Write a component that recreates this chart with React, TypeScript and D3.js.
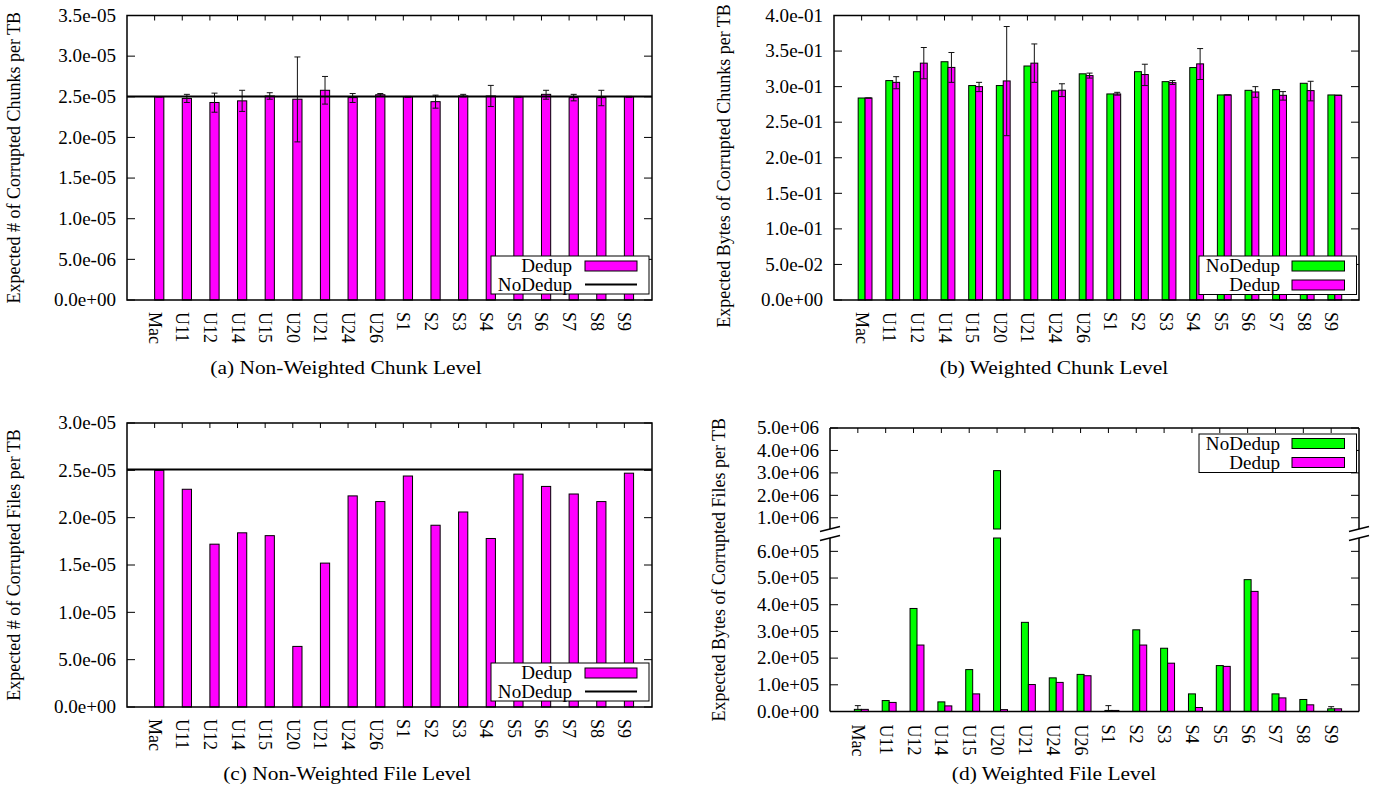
import React from 'react';
import * as d3 from 'd3';

const categories = ['Mac', 'U11', 'U12', 'U14', 'U15', 'U20', 'U21', 'U24', 'U26', 'S1', 'S2', 'S3', 'S4', 'S5', 'S6', 'S7', 'S8', 'S9'];

// (a) Non-Weighted Chunk Level
const chunkNWDedup = [2.50e-5, 2.48e-5, 2.43e-5, 2.45e-5, 2.51e-5, 2.47e-5, 2.58e-5, 2.49e-5, 2.525e-5, 2.50e-5, 2.44e-5, 2.51e-5, 2.51e-5, 2.50e-5, 2.53e-5, 2.49e-5, 2.49e-5, 2.50e-5];
const chunkNWDedupLo = [2.50e-5, 2.43e-5, 2.31e-5, 2.32e-5, 2.47e-5, 1.945e-5, 2.41e-5, 2.43e-5, 2.505e-5, 2.495e-5, 2.36e-5, 2.50e-5, 2.38e-5, 2.495e-5, 2.47e-5, 2.45e-5, 2.39e-5, 2.495e-5];
const chunkNWDedupHi = [2.50e-5, 2.53e-5, 2.545e-5, 2.58e-5, 2.55e-5, 2.99e-5, 2.75e-5, 2.54e-5, 2.54e-5, 2.505e-5, 2.52e-5, 2.53e-5, 2.64e-5, 2.505e-5, 2.58e-5, 2.53e-5, 2.58e-5, 2.505e-5];
const chunkNWNoDedup = 2.505e-5;
const ticksA = [0, 5e-6, 1e-5, 1.5e-5, 2e-5, 2.5e-5, 3e-5, 3.5e-5];

// (b) Weighted Chunk Level
const chunkWNoDedup = [0.284, 0.3085, 0.321, 0.335, 0.3015, 0.3015, 0.329, 0.294, 0.318, 0.2897, 0.321, 0.307, 0.3268, 0.2883, 0.2948, 0.2958, 0.3047, 0.2883];
const chunkWDedup = [0.284, 0.306, 0.333, 0.327, 0.300, 0.308, 0.333, 0.295, 0.3155, 0.2897, 0.317, 0.3056, 0.332, 0.2883, 0.2925, 0.2878, 0.2944, 0.2878];
const chunkWDedupLo = [0.284, 0.297, 0.311, 0.306, 0.293, 0.231, 0.306, 0.286, 0.312, 0.288, 0.3015, 0.303, 0.31, 0.2883, 0.285, 0.281, 0.280, 0.2878];
const chunkWDedupHi = [0.284, 0.314, 0.355, 0.348, 0.306, 0.3845, 0.360, 0.304, 0.319, 0.292, 0.3315, 0.3085, 0.3535, 0.2883, 0.300, 0.293, 0.3075, 0.2878];
const ticksB = [0, 0.05, 0.1, 0.15, 0.2, 0.25, 0.3, 0.35, 0.4];

// (c) Non-Weighted File Level
const fileNWDedup = [2.50e-5, 2.30e-5, 1.72e-5, 1.84e-5, 1.81e-5, 0.64e-5, 1.52e-5, 2.23e-5, 2.17e-5, 2.44e-5, 1.92e-5, 2.06e-5, 1.78e-5, 2.46e-5, 2.33e-5, 2.25e-5, 2.17e-5, 2.47e-5];
const fileNWNoDedup = 2.51e-5;
const ticksC = [0, 5e-6, 1e-5, 1.5e-5, 2e-5, 2.5e-5, 3e-5];

// (d) Weighted File Level
const fileWNoDedup = [8e3, 41e3, 386e3, 36e3, 157e3, 3.1e6, 334e3, 126e3, 139e3, 4e3, 306e3, 237e3, 66e3, 172e3, 494e3, 66e3, 45e3, 10e3];
const fileWDedup = [8e3, 34e3, 249e3, 21e3, 66e3, 7e3, 101e3, 109e3, 134e3, 4e3, 249e3, 181e3, 15e3, 169e3, 450e3, 51e3, 25e3, 10e3];
const fileWNoDedupHi = [22e3, 41e3, 386e3, 36e3, 157e3, 3.1e6, 334e3, 126e3, 139e3, 22e3, 306e3, 237e3, 66e3, 172e3, 494e3, 66e3, 45e3, 18e3];
const ticksDLow = [0, 1e5, 2e5, 3e5, 4e5, 5e5, 6e5];
const ticksDHigh = [1e6, 2e6, 3e6, 4e6, 5e6];
const domainDLow = [0, 6.5e5];
const domainDHigh = [5e5, 5e6];

const GREEN = '#00ff00';
const MAGENTA = '#ff00ff';
const FONT = '"Liberation Serif", "Times New Roman", Times, serif';
const FS = 18;
const SX = 1.06;

function fmtE(v: number) {
  const s = v.toExponential(1);
  const [m, e] = s.split('e');
  return m + 'e' + e[0] + e.slice(1).padStart(2, '0');
}

function T({ x, y, anchor = 'start', size = FS, sx = SX, rotate = 0, children }: any) {
  return (
    <text
      transform={`translate(${x},${y}) scale(${sx},1)${rotate ? ` rotate(${rotate})` : ''}`}
      textAnchor={anchor}
      dominantBaseline="central"
      fontFamily={FONT}
      fontSize={size}
      fill="#000"
    >
      {children}
    </text>
  );
}

function XLabels({ x, y }: any) {
  return (
    <g>
      {categories.map((c, i) => (
        <T key={c} x={x(i)} y={y} rotate={90} sx={1}>{c}</T>
      ))}
    </g>
  );
}

function TopTicks({ x, top }: any) {
  return (
    <g stroke="#000" strokeWidth={1}>
      {categories.map((c, i) => (
        <line key={c} x1={x(i)} x2={x(i)} y1={top} y2={top + 5} />
      ))}
    </g>
  );
}

function YTicks({ y, ticks, left, right, fmt }: any) {
  return (
    <g>
      {ticks.map((t: number) => (
        <g key={t}>
          <line x1={left} x2={left + 8} y1={y(t)} y2={y(t)} stroke="#000" strokeWidth={1} />
          <line x1={right - 8} x2={right} y1={y(t)} y2={y(t)} stroke="#000" strokeWidth={1} />
          <T x={left - 11} y={y(t)} anchor="end">{fmt(t)}</T>
        </g>
      ))}
    </g>
  );
}

function ErrBar({ x, y1, y2 }: any) {
  return (
    <g stroke="#111" strokeWidth={1}>
      <line x1={x} x2={x} y1={y1} y2={y2} />
      <line x1={x - 3} x2={x + 3} y1={y1} y2={y1} />
      <line x1={x - 3} x2={x + 3} y1={y2} y2={y2} />
    </g>
  );
}

function Legend({ x, y, w, h, rows, textRight, sampleX, sampleW }: any) {
  return (
    <g>
      <rect x={x} y={y} width={w} height={h} fill="#fff" stroke="#000" strokeWidth={1} />
      {rows.map((r: any) => (
        <g key={r.label}>
          <T x={textRight} y={r.cy} anchor="end">{r.label}</T>
          {r.type === 'bar' ? (
            <rect x={sampleX} y={r.cy - 5} width={sampleW} height={10} fill={r.color} stroke="#000" strokeWidth={1} />
          ) : (
            <line x1={sampleX} x2={sampleX + sampleW} y1={r.cy} y2={r.cy} stroke="#000" strokeWidth={2} />
          )}
        </g>
      ))}
    </g>
  );
}

function PanelSingle({ left, right, top, bottom, values, lo, hi, line, ticks, domainMax, ylabel, ylabelX, caption, captionX, captionY, legendY }: any) {
  const x = d3.scaleLinear().domain([-1, categories.length]).range([left, right]);
  const y = d3.scaleLinear().domain([0, domainMax]).range([bottom, top]);
  const w = (x(1) - x(0)) / 3;
  return (
    <g>
      {values.map((v: number, i: number) => (
        <rect key={i} x={x(i)} y={y(v)} width={w} height={y(0) - y(v)} fill={MAGENTA} stroke="#000" strokeWidth={1} />
      ))}
      {lo && values.map((v: number, i: number) => (
        <ErrBar key={i} x={x(i) + w / 2} y1={y(hi[i])} y2={y(lo[i])} />
      ))}
      <line x1={left} x2={right} y1={y(line)} y2={y(line)} stroke="#000" strokeWidth={2} />
      <rect x={left} y={top} width={right - left} height={bottom - top} fill="none" stroke="#000" strokeWidth={1.5} />
      <YTicks y={y} ticks={ticks} left={left} right={right} fmt={fmtE} />
      <TopTicks x={x} top={top} />
      <XLabels x={x} y={bottom + 12} />
      <Legend x={491} y={legendY} w={158} h={38} textRight={572} sampleX={585} sampleW={52}
        rows={[{ label: 'Dedup', type: 'bar', color: MAGENTA, cy: legendY + 10 }, { label: 'NoDedup', type: 'line', cy: legendY + 28.5 }]} />
      <T x={ylabelX} y={(top + bottom) / 2} anchor="middle" rotate={-90} sx={1}>{ylabel}</T>
      <T x={captionX} y={captionY} anchor="middle" size={19.5} sx={1.1}>{caption}</T>
    </g>
  );
}

function PanelB() {
  const left = 834, right = 1359, top = 15.5, bottom = 300;
  const x = d3.scaleLinear().domain([-1, categories.length]).range([left, right]);
  const y = d3.scaleLinear().domain([0, 0.4]).range([bottom, top]);
  const w = (x(1) - x(0)) / 4;
  return (
    <g>
      {categories.map((c, i) => (
        <g key={c}>
          <rect x={x(i) - w / 2} y={y(chunkWNoDedup[i])} width={w} height={y(0) - y(chunkWNoDedup[i])} fill={GREEN} stroke="#000" strokeWidth={1} />
          <rect x={x(i) + w / 2} y={y(chunkWDedup[i])} width={w} height={y(0) - y(chunkWDedup[i])} fill={MAGENTA} stroke="#000" strokeWidth={1} />
          <ErrBar x={x(i) + w} y1={y(chunkWDedupHi[i])} y2={y(chunkWDedupLo[i])} />
        </g>
      ))}
      <rect x={left} y={top} width={right - left} height={bottom - top} fill="none" stroke="#000" strokeWidth={1.5} />
      <YTicks y={y} ticks={ticksB} left={left} right={right} fmt={fmtE} />
      <TopTicks x={x} top={top} />
      <XLabels x={x} y={bottom + 12} />
      <Legend x={1199} y={256} w={157.5} h={38.5} textRight={1280} sampleX={1292} sampleW={52.5}
        rows={[{ label: 'NoDedup', type: 'bar', color: GREEN, cy: 266 }, { label: 'Dedup', type: 'bar', color: MAGENTA, cy: 285 }]} />
      <T x={724} y={166} anchor="middle" rotate={-90} sx={1}>Expected Bytes of Corrupted Chunks per TB</T>
      <T x={1054} y={367} anchor="middle" size={19.5} sx={1.1}>(b) Weighted Chunk Level</T>
    </g>
  );
}

function PanelD() {
  const left = 830, right = 1359, top = 428, bottom = 711.5, upBottom = 529, lowTop = 538;
  const x = d3.scaleLinear().domain([-1, categories.length]).range([left, right]);
  const yLow = d3.scaleLinear().domain(domainDLow).range([bottom, lowTop]);
  const yUp = d3.scaleLinear().domain(domainDHigh).range([upBottom, top]);
  const w = (x(1) - x(0)) / 4;
  const lowMax = domainDLow[1];
  const bar = (v: number, bx: number, color: string, key: string) => (
    <g key={key}>
      <rect x={bx} y={yLow(Math.min(v, lowMax))} width={w} height={yLow(0) - yLow(Math.min(v, lowMax))} fill={color} stroke="#000" strokeWidth={1} />
      {v > lowMax && (
        <rect x={bx} y={yUp(v)} width={w} height={yUp(domainDHigh[0]) - yUp(v)} fill={color} stroke="#000" strokeWidth={1} />
      )}
    </g>
  );
  const slash = (cx: number, cy: number, key: string) => (
    <line key={key} x1={cx - 10} y1={cy + 2.5} x2={cx + 10} y2={cy - 2.5} stroke="#000" strokeWidth={1.3} />
  );
  return (
    <g>
      {categories.map((c, i) => (
        <g key={c}>
          {bar(fileWNoDedup[i], x(i) - w / 2, GREEN, 'g')}
          {bar(fileWDedup[i], x(i) + w / 2, MAGENTA, 'm')}
          {fileWNoDedupHi[i] > fileWNoDedup[i] && (
            <g stroke="#111" strokeWidth={1}>
              <line x1={x(i)} x2={x(i)} y1={yLow(fileWNoDedupHi[i])} y2={yLow(fileWNoDedup[i])} />
              <line x1={x(i) - 3} x2={x(i) + 3} y1={yLow(fileWNoDedupHi[i])} y2={yLow(fileWNoDedupHi[i])} />
            </g>
          )}
        </g>
      ))}
      <g stroke="#000" strokeWidth={1.5}>
        <line x1={left} x2={right} y1={top} y2={top} />
        <line x1={left} x2={right} y1={bottom} y2={bottom} />
        <line x1={left} x2={left} y1={top} y2={upBottom} />
        <line x1={left} x2={left} y1={lowTop} y2={bottom} />
        <line x1={right} x2={right} y1={top} y2={upBottom} />
        <line x1={right} x2={right} y1={lowTop} y2={bottom} />
      </g>
      {slash(left, upBottom, 'a')}
      {slash(left, lowTop, 'b')}
      {slash(right, upBottom, 'c')}
      {slash(right, lowTop, 'd')}
      <YTicks y={yLow} ticks={ticksDLow} left={left} right={right} fmt={fmtE} />
      <YTicks y={yUp} ticks={ticksDHigh} left={left} right={right} fmt={fmtE} />
      <TopTicks x={x} top={top} />
      <XLabels x={x} y={bottom + 13} />
      <Legend x={1199} y={434} w={157.5} h={38.5} textRight={1280} sampleX={1292} sampleW={52.5}
        rows={[{ label: 'NoDedup', type: 'bar', color: GREEN, cy: 443.5 }, { label: 'Dedup', type: 'bar', color: MAGENTA, cy: 462.5 }]} />
      <T x={719} y={(top + bottom) / 2} anchor="middle" rotate={-90} sx={1}>Expected Bytes of Corrupted Files per TB</T>
      <T x={1054} y={773} anchor="middle" size={19.5} sx={1.1}>(d) Weighted File Level</T>
    </g>
  );
}

export default function App() {
  return (
    <svg width={1380} height={787} viewBox="0 0 1380 787" style={{ position: 'absolute', left: 0, top: 0, background: '#fff' }}>
      <rect x={0} y={0} width={1380} height={787} fill="#fff" />
      <PanelSingle left={127} right={652} top={15.5} bottom={300}
        values={chunkNWDedup} lo={chunkNWDedupLo} hi={chunkNWDedupHi} line={chunkNWNoDedup}
        ticks={ticksA} domainMax={3.5e-5}
        ylabel="Expected # of Corrupted Chunks per TB" ylabelX={14}
        caption="(a) Non-Weighted Chunk Level" captionX={346} captionY={367} legendY={256} />
      <PanelB />
      <PanelSingle left={127} right={652} top={423} bottom={707}
        values={fileNWDedup} line={fileNWNoDedup}
        ticks={ticksC} domainMax={3e-5}
        ylabel="Expected # of Corrupted Files per TB" ylabelX={14}
        caption="(c) Non-Weighted File Level" captionX={347} captionY={773} legendY={663} />
      <PanelD />
    </svg>
  );
}
